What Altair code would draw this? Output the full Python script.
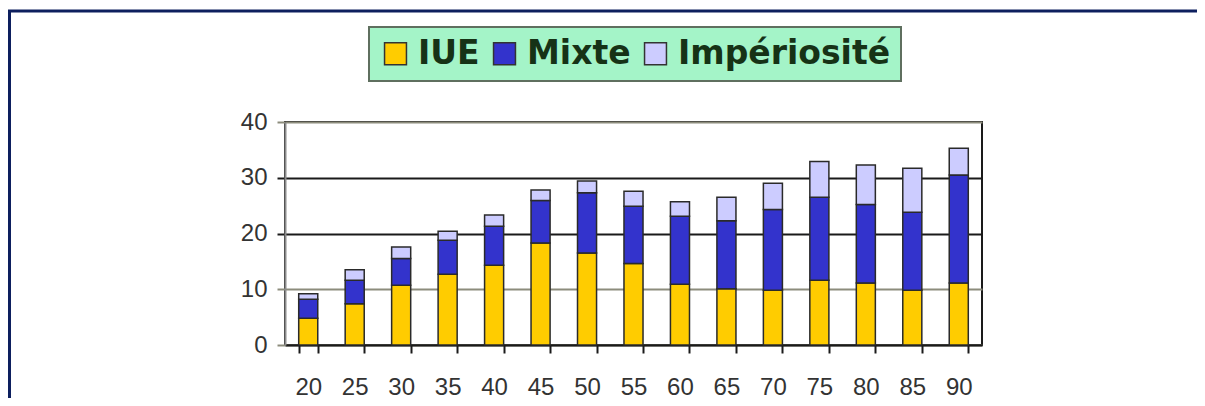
import altair as alt
import pandas as pd

categories = ["20", "25", "30", "35", "40", "45", "50", "55", "60", "65", "70", "75", "80", "85", "90"]
series = ["IUE", "Mixte", "Impériosité"]
iue = [4.8, 7.4, 10.7, 12.7, 14.3, 18.3, 16.5, 14.6, 10.9, 10.1, 9.8, 11.6, 11.1, 9.8, 11.1]
mixte = [3.4, 4.2, 4.8, 6.1, 7.0, 7.6, 10.8, 10.3, 12.2, 12.2, 14.5, 14.9, 14.1, 14.0, 19.4]
imp = [1.0, 1.9, 2.1, 1.6, 2.0, 1.9, 2.1, 2.7, 2.6, 4.2, 4.7, 6.4, 7.1, 7.9, 4.8]
y_ticks = [0, 10, 20, 30, 40]
colors = ["#FFCC00", "#3333CC", "#CCCCFF"]

rows = []
for i, c in enumerate(categories):
    for k, (s, vals) in enumerate(zip(series, [iue, mixte, imp])):
        rows.append({"cat": c, "serie": s, "value": vals[i], "ord": k})
df = pd.DataFrame(rows)

grid_color = {"condition": {"test": "datum.value == 20 || datum.value == 30", "value": "#1a1a1a"},
              "value": "#8c8c7c"}

bars = alt.Chart(df).mark_bar(stroke="#2a2a2a", strokeWidth=1.5).encode(
    x=alt.X("cat:O", sort=categories,
            scale=alt.Scale(paddingInner=0.59, paddingOuter=0.295),
            axis=alt.Axis(title=None, labelAngle=0, tickBand="extent", tickSize=8, tickWidth=2,
                          tickColor="#1a1a1a", domainColor="#1a1a1a", domainWidth=2,
                          labelFont="Liberation Sans", labelFontSize=24, labelColor="#333333",
                          labelPadding=22, grid=False)),
    y=alt.Y("value:Q", stack="zero",
            scale=alt.Scale(domain=[0, 40], nice=False),
            axis=alt.Axis(title=None, values=y_ticks, grid=True, gridColor=grid_color, gridWidth=2,
                          tickSize=8, tickWidth=2, tickColor=grid_color,
                          domainColor="#8c8c8c", domainWidth=2,
                          labelFont="Liberation Sans", labelFontSize=24, labelColor="#333333",
                          labelPadding=10)),
    color=alt.Color("serie:N", scale=alt.Scale(domain=series, range=colors),
                    legend=alt.Legend(title=None, orient="none", legendX=84, legendY=-95,
                                      direction="horizontal", fillColor="#A4F4C8",
                                      strokeColor="#5f6f5f", padding=10,
                                      labelFont="DejaVu Sans", labelFontSize=33, labelFontWeight="bold",
                                      labelColor="#163216", symbolType="square", symbolSize=480,
                                      symbolStrokeColor="#333333", symbolStrokeWidth=1.5,
                                      labelOffset=6, columnPadding=8, labelLimit=400)),
    order=alt.Order("ord:Q"),
)

one = pd.DataFrame({"a": [0]})
top_border = alt.Chart(one).mark_rule(color="#0d1f5e", strokeWidth=3).encode(
    x=alt.value(-285), x2=alt.value(930), y=alt.value(-111))
left_border = alt.Chart(one).mark_rule(color="#0d1f5e", strokeWidth=3).encode(
    x=alt.value(-275.5), y=alt.value(-112), y2=alt.value(300))

chart = alt.layer(bars, top_border, left_border).properties(
    width=697, height=223,
    autosize=alt.AutoSizeParams(type="none"),
    padding={"left": 277, "top": 114, "right": 215, "bottom": 53},
).configure_view(stroke="#1a1a1a", strokeWidth=2).configure_legend(strokeWidth=2)

chart.save("out.html", embed_options={"renderer": "svg", "actions": False})
